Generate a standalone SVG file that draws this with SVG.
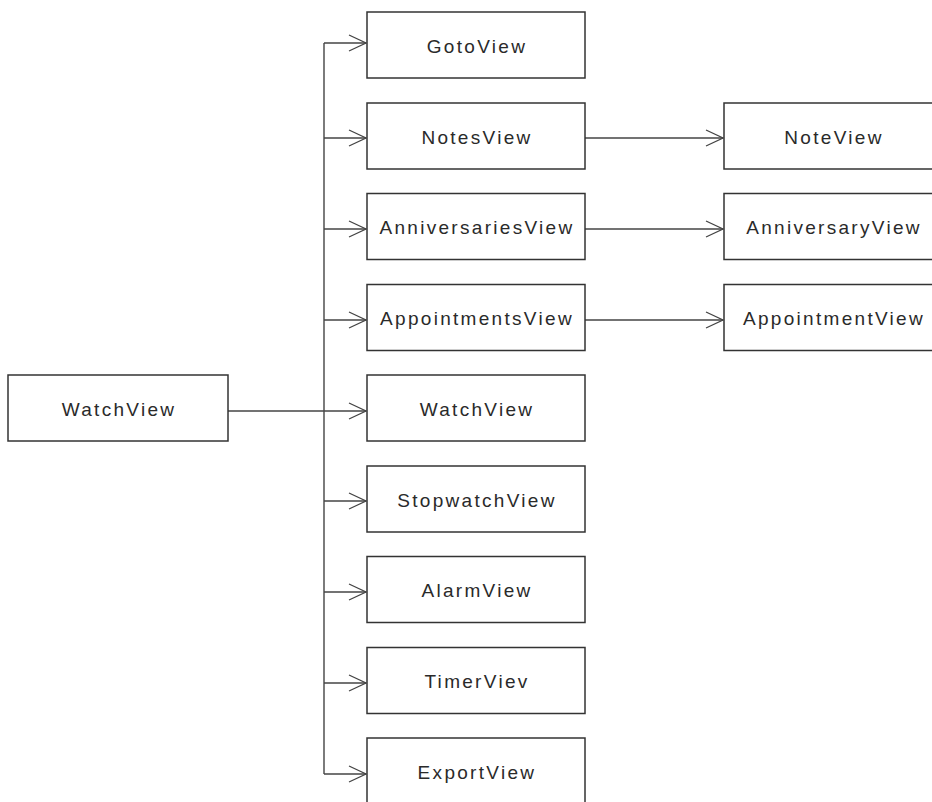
<svg xmlns="http://www.w3.org/2000/svg" width="932" height="802" viewBox="0 0 932 802">
<style>
.box{fill:#fff;stroke:#333;stroke-width:1.5}
.lbl{font-family:"Liberation Sans",Arial,sans-serif;font-size:19px;letter-spacing:2.3px;fill:#2a2a2a;text-anchor:middle}
.edge{fill:none;stroke:#444;stroke-width:1.4}
</style>
<defs>
<marker id="arr" markerUnits="userSpaceOnUse" markerWidth="20" markerHeight="20" viewBox="-19 -10 20 20" refX="0" refY="0" orient="auto">
<path d="M-17,-8 L0,0 L-17,8" fill="none" stroke="#444" stroke-width="1.3"/>
</marker>
</defs>
<rect width="932" height="802" fill="#fff"/>
<g id="connectors">
<path class="edge" d="M324,43 V774"/>
<path class="edge" d="M324,43 H366" marker-end="url(#arr)"/>
<path class="edge" d="M324,138 H366" marker-end="url(#arr)"/>
<path class="edge" d="M324,229 H366" marker-end="url(#arr)"/>
<path class="edge" d="M324,320 H366" marker-end="url(#arr)"/>
<path class="edge" d="M228,411 H366" marker-end="url(#arr)"/>
<path class="edge" d="M324,501 H366" marker-end="url(#arr)"/>
<path class="edge" d="M324,592 H366" marker-end="url(#arr)"/>
<path class="edge" d="M324,683 H366" marker-end="url(#arr)"/>
<path class="edge" d="M324,774 H366" marker-end="url(#arr)"/>
<path class="edge" d="M585,138 H723" marker-end="url(#arr)"/>
<path class="edge" d="M585,229 H723" marker-end="url(#arr)"/>
<path class="edge" d="M585,320 H723" marker-end="url(#arr)"/>
</g>
<g id="root-watchview"><rect class="box" x="8" y="375" width="220" height="66"/><text class="lbl" x="119" y="416">WatchView</text></g>
<g id="gotoview"><rect class="box" x="367" y="12" width="218" height="66"/><text class="lbl" x="477" y="53">GotoView</text></g>
<g id="notesview"><rect class="box" x="367" y="103" width="218" height="66"/><text class="lbl" x="477" y="144">NotesView</text></g>
<g id="anniversariesview"><rect class="box" x="367" y="193.5" width="218" height="66"/><text class="lbl" x="477" y="234">AnniversariesView</text></g>
<g id="appointmentsview"><rect class="box" x="367" y="284.5" width="218" height="66"/><text class="lbl" x="477" y="325">AppointmentsView</text></g>
<g id="watchview"><rect class="box" x="367" y="375" width="218" height="66"/><text class="lbl" x="477" y="416">WatchView</text></g>
<g id="stopwatchview"><rect class="box" x="367" y="466" width="218" height="66"/><text class="lbl" x="477" y="507">StopwatchView</text></g>
<g id="alarmview"><rect class="box" x="367" y="556.5" width="218" height="66"/><text class="lbl" x="477" y="597">AlarmView</text></g>
<g id="timerviev"><rect class="box" x="367" y="647.5" width="218" height="66"/><text class="lbl" x="477" y="688">TimerViev</text></g>
<g id="exportview"><rect class="box" x="367" y="738" width="218" height="66"/><text class="lbl" x="477" y="779">ExportView</text></g>
<g id="noteview"><rect class="box" x="724" y="103" width="218" height="66"/><text class="lbl" x="834" y="144">NoteView</text></g>
<g id="anniversaryview"><rect class="box" x="724" y="193.5" width="218" height="66"/><text class="lbl" x="834" y="234">AnniversaryView</text></g>
<g id="appointmentview"><rect class="box" x="724" y="284.5" width="218" height="66"/><text class="lbl" x="834" y="325">AppointmentView</text></g>
</svg>
